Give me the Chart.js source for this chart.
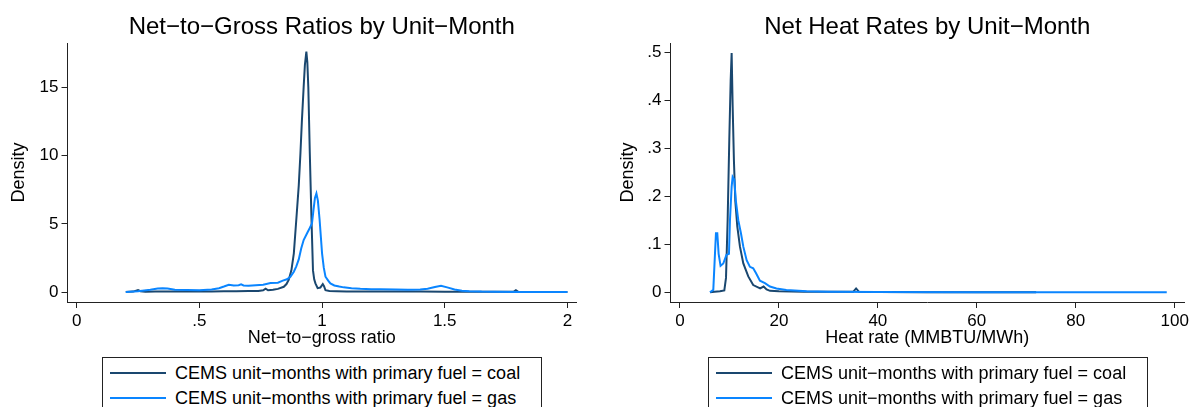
<!DOCTYPE html>
<html>
<head>
<meta charset="utf-8">
<script src="https://cdn.jsdelivr.net/npm/chart.js@4.4.1/dist/chart.umd.min.js"></script>
<style>
  html, body { margin: 0; padding: 0; background: #fff; }
  body { width: 1192px; height: 407px; position: relative; overflow: hidden;
         font-family: "Liberation Sans", Arial, Helvetica, sans-serif; }
  .panel { position: absolute; top: 0; width: 596px; height: 407px; }
  .legend { position: absolute; top: 357px; height: 62px; border: 1px solid #222;
            box-sizing: border-box; background: #fff; }
  .item { position: absolute; left: 0; height: 20px; font-size: 18px; line-height: 20px;
          color: #000; white-space: nowrap; }
  .swatch { position: absolute; left: 7px; top: 9px; width: 56px; height: 2px; }
  .label { position: absolute; left: 72px; top: 0; }
</style>
</head>
<body>
<div class="panel" style="left:0"><canvas id="ngChart" width="596" height="407"></canvas></div>
<div class="panel" style="left:596px"><canvas id="hrChart" width="596" height="407"></canvas></div>

<div class="legend" style="left:102px;width:440px">
  <div class="item" style="top:5px"><div class="swatch" style="background:#1a476f"></div><span class="label" id="lgA1"></span></div>
  <div class="item" style="top:30px"><div class="swatch" style="background:#0a85ff"></div><span class="label" id="lgA2"></span></div>
</div>
<div class="legend" style="left:708px;width:440px">
  <div class="item" style="top:5px"><div class="swatch" style="background:#1a476f"></div><span class="label" id="lgB1"></span></div>
  <div class="item" style="top:30px"><div class="swatch" style="background:#0a85ff"></div><span class="label" id="lgB2"></span></div>
</div>

<script>
// Series names
const seriesNames = ["CEMS unit\u2212months with primary fuel = coal",
                     "CEMS unit\u2212months with primary fuel = gas"];
const seriesColors = ["#1a476f", "#0a85ff"];

// Net-to-gross ratio densities
const ngCoalX = [0.20, 0.23, 0.25, 0.26, 0.28, 0.32, 0.36, 0.40, 0.45, 0.50, 0.55, 0.60, 0.65, 0.70,
  0.74, 0.76, 0.77, 0.78, 0.80, 0.82, 0.844, 0.855, 0.864, 0.875, 0.885, 0.895, 0.905, 0.912, 0.918,
  0.925, 0.930, 0.936, 0.940, 0.944, 0.950, 0.957, 0.963, 0.968, 0.973, 0.982, 0.993, 1.003, 1.008,
  1.014, 1.03, 1.06, 1.10, 1.20, 1.30, 1.40, 1.50, 1.60, 1.70, 1.78, 1.79, 1.80, 1.90, 2.00];
const ngCoalY = [0.03, 0.05, 0.17, 0.08, 0.04, 0.05, 0.06, 0.05, 0.06, 0.05, 0.06, 0.07, 0.07, 0.09,
  0.10, 0.15, 0.27, 0.15, 0.18, 0.25, 0.40, 0.60, 0.90, 1.60, 2.85, 5.3, 7.8, 10.2, 12.6,
  15.0, 16.6, 17.6, 16.8, 15.0, 10.2, 5.3, 1.6, 0.95, 0.65, 0.30, 0.35, 0.60, 0.45,
  0.15, 0.10, 0.08, 0.06, 0.05, 0.05, 0.05, 0.04, 0.04, 0.04, 0.04, 0.15, 0.04, 0.03, 0.03];

const ngGasX = [0.20, 0.25, 0.30, 0.33, 0.35, 0.37, 0.40, 0.45, 0.50, 0.55, 0.58, 0.60, 0.62, 0.64,
  0.66, 0.67, 0.68, 0.70, 0.73, 0.76, 0.79, 0.82, 0.84, 0.857, 0.871, 0.885, 0.895, 0.905, 0.915,
  0.925, 0.940, 0.950, 0.959, 0.965, 0.971, 0.977, 0.983, 0.990, 1.000, 1.007, 1.014, 1.025, 1.034,
  1.05, 1.07, 1.088, 1.12, 1.156, 1.20, 1.238, 1.30, 1.35, 1.40, 1.43, 1.46, 1.485, 1.51, 1.54,
  1.57, 1.60, 1.65, 1.70, 1.80, 1.90, 2.00];
const ngGasY = [0.02, 0.08, 0.18, 0.27, 0.30, 0.27, 0.18, 0.16, 0.15, 0.20, 0.30, 0.42, 0.55, 0.50,
  0.52, 0.58, 0.50, 0.47, 0.52, 0.55, 0.68, 0.70, 0.85, 0.95, 1.14, 1.5, 1.9, 2.4, 3.2,
  3.82, 4.35, 4.7, 5.04, 6.0, 6.9, 7.23, 6.7, 5.3, 2.85, 1.8, 1.14, 0.85, 0.65,
  0.50, 0.42, 0.36, 0.30, 0.26, 0.23, 0.22, 0.20, 0.19, 0.20, 0.26, 0.38, 0.47, 0.36, 0.20,
  0.12, 0.08, 0.05, 0.04, 0.03, 0.03, 0.02];

// Heat rate densities
const hrCoalX = [6.06, 7.0, 8.08, 8.96, 9.3, 9.63, 9.97, 10.24, 10.44, 10.64, 10.9, 11.18, 11.58,
  12.12, 12.8, 13.8, 14.8, 16.2, 16.9, 17.5, 18.2, 20, 25, 30, 35, 35.6, 36.2, 40, 50, 60, 72];
const hrCoalY = [0.0, 0.001, 0.002, 0.004, 0.03, 0.15, 0.32, 0.44, 0.498, 0.39, 0.275, 0.19, 0.137,
  0.095, 0.06, 0.033, 0.015, 0.008, 0.012, 0.006, 0.003, 0.002, 0.001, 0.001, 0.001, 0.008, 0.001,
  0.0005, 0.0003, 0.0003, 0.0002];

const hrGasX = [6.06, 6.73, 7.07, 7.27, 7.54, 7.81, 8.2, 8.75, 9.4, 9.9, 10.1, 10.44, 10.64, 10.98,
  11.3, 11.78, 12.32, 12.8, 13.47, 14.14, 14.8, 15.35, 16.16, 17.17, 18.18, 19.5, 21.5, 25.6, 30,
  40, 60, 80, 98.4];
const hrGasY = [0, 0.005, 0.08, 0.123, 0.123, 0.08, 0.055, 0.06, 0.078, 0.08, 0.15, 0.22, 0.24, 0.234,
  0.19, 0.15, 0.123, 0.095, 0.067, 0.053, 0.05, 0.04, 0.024, 0.019, 0.012, 0.008, 0.005, 0.002, 0.001,
  0.0005, 0.0003, 0.0002, 0.0001];

// Tick values and labels
const ngXTicks = [0, 0.5, 1, 1.5, 2];
const ngXLabels = ["0", ".5", "1", "1.5", "2"];
const ngYTicks = [0, 5, 10, 15];
const ngYLabels = ["0", "5", "10", "15"];
const hrXTicks = [0, 20, 40, 60, 80, 100];
const hrXLabels = ["0", "20", "40", "60", "80", "100"];
const hrYTicks = [0, 0.1, 0.2, 0.3, 0.4, 0.5];
const hrYLabels = ["0", ".1", ".2", ".3", ".4", ".5"];

const FONT = '"Liberation Sans", Arial, Helvetica, sans-serif';

document.getElementById("lgA1").textContent = seriesNames[0];
document.getElementById("lgA2").textContent = seriesNames[1];
document.getElementById("lgB1").textContent = seriesNames[0];
document.getElementById("lgB2").textContent = seriesNames[1];

function pts(xs, ys) { return xs.map((x, i) => ({ x: x, y: ys[i] })); }

function axis(min, max, values, labels, title, titlePad, size, horizontal) {
  return {
    type: "linear", min: min, max: max,
    afterBuildTicks: s => { s.ticks = values.map(v => ({ value: v })); },
    afterFit: s => { if (horizontal) s.height = size; else s.width = size; },
    ticks: {
      autoSkip: false, maxRotation: 0, padding: 3, color: "#000",
      font: { family: FONT, size: 17 },
      callback: v => { const i = values.indexOf(v); return i >= 0 ? labels[i] : ""; }
    },
    grid: { display: true, drawOnChartArea: false, drawTicks: true, tickLength: 6,
            tickColor: "#222", tickWidth: 1 },
    border: { display: true, color: "#222", width: 1 },
    title: { display: true, text: title, color: "#000", font: { family: FONT, size: 18 },
             padding: titlePad }
  };
}

function makeChart(id, cfg) {
  return new Chart(document.getElementById(id), {
    type: "line",
    data: {
      datasets: [
        { label: seriesNames[0], data: pts(cfg.coalX, cfg.coalY), borderColor: seriesColors[0],
          borderWidth: 2, pointRadius: 0, tension: 0, fill: false, order: 1 },
        { label: seriesNames[1], data: pts(cfg.gasX, cfg.gasY), borderColor: seriesColors[1],
          borderWidth: 2, pointRadius: 0, tension: 0, fill: false, order: 0 }
      ]
    },
    options: {
      responsive: false, animation: false, devicePixelRatio: 1,
      layout: { padding: { left: 0, right: cfg.padRight, top: 0, bottom: 55 } },
      plugins: {
        legend: { display: false },
        tooltip: { enabled: false },
        title: { display: true, text: cfg.title, color: "#000", fullSize: false,
                 font: { family: FONT, size: 24, weight: "normal" },
                 padding: { top: 12.6, bottom: 1.6 } }
      },
      scales: {
        x: axis(cfg.xMin, cfg.xMax, cfg.xTicks, cfg.xLabels, cfg.xTitle,
                { top: 0, bottom: 3 }, 50, true),
        y: axis(cfg.yMin, cfg.yMax, cfg.yTicks, cfg.yLabels, "Density",
                { top: cfg.yTitleOffset, bottom: 0 }, cfg.yWidth, false)
      }
    }
  });
}

makeChart("ngChart", {
  title: "Net\u2212to\u2212Gross Ratios by Unit\u2212Month",
  coalX: ngCoalX, coalY: ngCoalY, gasX: ngGasX, gasY: ngGasY,
  xMin: -0.0375, xMax: 2.035, xTicks: ngXTicks, xLabels: ngXLabels,
  xTitle: "Net\u2212to\u2212gross ratio",
  yMin: -0.71, yMax: 18.22, yTicks: ngYTicks, yLabels: ngYLabels,
  yWidth: 67.5, yTitleOffset: 8.2, padRight: 20
});

makeChart("hrChart", {
  title: "Net Heat Rates by Unit\u2212Month",
  coalX: hrCoalX, coalY: hrCoalY, gasX: hrGasX, gasY: hrGasY,
  xMin: -1.92, xMax: 101.9, xTicks: hrXTicks, xLabels: hrXLabels,
  xTitle: "Heat rate (MMBTU/MWh)",
  yMin: -0.0202, yMax: 0.519, yTicks: hrYTicks, yLabels: hrYLabels,
  yWidth: 74.5, yTitleOffset: 21.5, padRight: 7.6
});
</script>
</body>
</html>
